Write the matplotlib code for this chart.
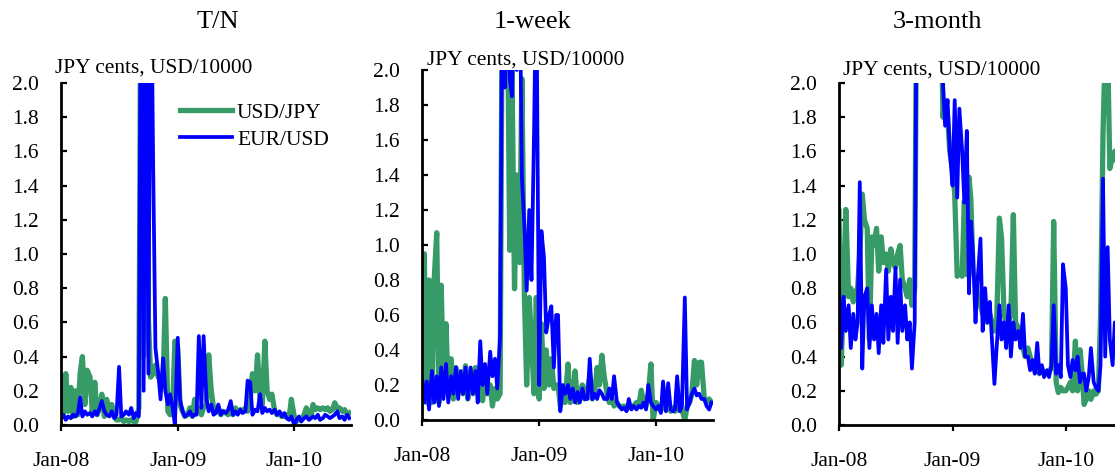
import matplotlib
matplotlib.use('Agg')
import matplotlib.pyplot as plt
import matplotlib.dates as mdates
import pandas as pd

plt.rcParams['font.family'] = ['Liberation Serif', 'DejaVu Serif']

# ---------------- data (4 readings per month, Jan-2008 .. Jun-2010) ----------------
months = pd.period_range('2008-01', '2010-06', freq='M')
days_in_month = [1, 8, 16, 23]
dates = [pd.Timestamp(p.year, p.month, d) for p in months for d in days_in_month]

titles = ['T/N', '1-week', '3-month']
series_names = ['USD/JPY', 'EUR/USD']
unit_label = 'JPY cents, USD/10000'
tick_years = [2008, 2009, 2010]

tn_usdjpy = [
    0.28, 0.05, 0.30, 0.08,  0.22, 0.05, 0.20, 0.06,  0.30, 0.40, 0.12, 0.32,
    0.28, 0.08, 0.25, 0.06,  0.10, 0.18, 0.05, 0.15,  0.08, 0.12, 0.05, 0.03,
    0.03, 0.04, 0.02, 0.03,  0.02, 0.03, 0.02, 0.02,  0.10, 3.00, 0.40, 3.00,
    0.62, 0.28, 0.30, 0.35,  0.28, 0.28, 0.25, 0.74,  0.08, 0.06, 0.10, 0.49,
    0.45, 0.12, 0.08, 0.05,  0.06, 0.10, 0.05, 0.15,  0.08, 0.10, 0.06, 0.10,
    0.12, 0.41, 0.20, 0.10,  0.08, 0.10, 0.06, 0.08,  0.07, 0.06, 0.09, 0.06,
    0.10, 0.07, 0.09, 0.08,  0.10, 0.08, 0.15, 0.30,  0.20, 0.41, 0.15, 0.12,
    0.49, 0.20, 0.15, 0.18,  0.08, 0.06, 0.07, 0.05,  0.05, 0.06, 0.04, 0.15,
    0.05, 0.02, 0.04, 0.03,  0.06, 0.10, 0.07, 0.05,  0.12, 0.09, 0.10, 0.09,
    0.10, 0.09, 0.10, 0.08,  0.09, 0.13, 0.10, 0.10,  0.08, 0.09, 0.06, 0.07,
]
tn_eurusd = [
    0.04, 0.06, 0.03, 0.05,  0.04, 0.06, 0.05, 0.07,  0.16, 0.05, 0.08, 0.06,
    0.07, 0.05, 0.08, 0.06,  0.10, 0.14, 0.08, 0.06,  0.05, 0.08, 0.04, 0.06,
    0.34, 0.05, 0.06, 0.08,  0.06, 0.10, 0.04, 0.07,  0.05, 3.00, 0.20, 3.00,
    0.30, 3.00, 1.50, 0.45,  0.30, 0.15, 0.39, 0.20,  0.12, 0.18, 0.10, 0.00,
    0.51, 0.15, 0.08, 0.05,  0.06, 0.08, 0.05, 0.06,  0.06, 0.52, 0.10, 0.52,
    0.15, 0.08, 0.12, 0.06,  0.07, 0.12, 0.06, 0.08,  0.07, 0.09, 0.14, 0.06,
    0.08, 0.06, 0.09, 0.07,  0.08, 0.26, 0.25, 0.06,  0.09, 0.08, 0.18, 0.07,
    0.10, 0.08, 0.09, 0.07,  0.09, 0.06, 0.08, 0.05,  0.07, 0.04, 0.03, 0.05,
    0.00, 0.03, 0.05, 0.02,  0.04, 0.05, 0.03, 0.04,  0.05, 0.04, 0.06, 0.03,
    0.04, 0.06, 0.05, 0.04,  0.05, 0.06, 0.08, 0.04,  0.05, 0.03, 0.06, 0.04,
]
wk_usdjpy = [
    0.31, 0.95, 0.10, 0.80,  0.10, 0.80, 1.07, 0.10,  0.77, 0.20, 0.55, 0.15,
    0.35, 0.12, 0.30, 0.20,  0.25, 0.15, 0.31, 0.12,  0.28, 0.15, 0.30, 0.18,
    0.25, 0.11, 0.22, 0.15,  0.20, 0.08, 0.18, 0.12,  0.15, 2.60, 1.95, 2.60,
    0.97, 2.00, 0.75, 1.40,  0.90, 1.95, 0.70, 0.20,  0.70, 0.45, 0.15, 0.70,
    0.12, 0.55, 0.18, 0.40,  0.20, 0.35, 0.18, 0.20,  0.20, 0.08, 0.15, 0.10,
    0.32, 0.10, 0.12, 0.28,  0.10, 0.15, 0.20, 0.12,  0.18, 0.24, 0.12, 0.15,
    0.30, 0.20, 0.37, 0.25,  0.15, 0.10, 0.12, 0.08,  0.10, 0.08, 0.07, 0.08,
    0.06, 0.08, 0.07, 0.08,  0.10, 0.08, 0.17, 0.10,  0.08, 0.15, 0.32, 0.00,
    0.10, 0.08, 0.06, 0.08,  0.06, 0.08, 0.05, 0.07,  0.05, 0.06, 0.08, 0.06,
    0.00, 0.08, 0.10, 0.15,  0.34, 0.20, 0.33, 0.33,  0.12, 0.10, 0.12, 0.10,
]
wk_eurusd = [
    0.25, 0.10, 0.22, 0.06,  0.28, 0.10, 0.25, 0.08,  0.30, 0.12, 0.32, 0.10,
    0.25, 0.15, 0.30, 0.12,  0.28, 0.15, 0.30, 0.12,  0.30, 0.15, 0.28, 0.10,
    0.45, 0.20, 0.32, 0.15,  0.39, 0.25, 0.35, 0.18,  0.48, 2.60, 1.90, 2.60,
    1.95, 1.85, 2.60, 2.00,  2.60, 1.39, 1.10, 0.74,  1.20, 0.80, 1.64, 2.60,
    0.20, 1.08, 0.93, 0.50,  0.60, 0.65, 0.30, 0.60,  0.60, 0.05, 0.20, 0.15,
    0.20, 0.12, 0.18, 0.10,  0.16, 0.10, 0.18, 0.12,  0.12, 0.35, 0.12, 0.15,
    0.12, 0.17, 0.15, 0.12,  0.12, 0.18, 0.12, 0.25,  0.10, 0.08, 0.06, 0.07,
    0.05, 0.12, 0.06, 0.08,  0.06, 0.08, 0.07, 0.10,  0.06, 0.20, 0.10, 0.08,
    0.06, 0.08, 0.04, 0.22,  0.05, 0.21, 0.06, 0.05,  0.06, 0.25, 0.05, 0.08,
    0.70, 0.06, 0.10, 0.15,  0.18, 0.14, 0.15, 0.12,  0.12, 0.08, 0.06, 0.10,
]
m3_usdjpy = [
    1.25, 0.35, 0.80, 1.26,  0.75, 0.80, 0.72, 0.78,  0.80, 1.00, 1.35, 1.20,
    1.15, 0.50, 1.10, 1.05,  1.15, 0.90, 1.10, 0.95,  1.00, 0.90, 1.03, 0.95,
    0.92, 1.00, 1.05, 0.85,  0.80, 0.75, 0.85, 0.70,  0.80, 2.80, 2.80, 2.80,
    2.80, 2.80, 2.80, 2.80,  2.80, 2.80, 2.80, 2.80,  1.80, 1.90, 1.80, 1.60,
    1.50, 1.35, 0.87, 0.90,  0.87, 1.31, 0.88, 1.45,  1.32, 0.90, 0.85, 0.75,
    0.70, 0.65, 0.68, 0.60,  0.65, 0.60, 0.55, 0.58,  1.21, 1.09, 0.65, 0.60,
    0.60, 0.65, 1.23, 0.60,  0.57, 0.50, 0.45, 0.40,  0.45, 0.40, 0.35, 0.32,
    0.35, 0.30, 0.33, 0.30,  0.30, 0.32, 0.33, 1.19,  0.25, 0.19, 0.22, 0.20,
    0.20, 0.22, 0.25, 0.20,  0.49, 0.20, 0.44, 0.30,  0.12, 0.15, 0.20, 0.15,
    0.20, 0.18, 0.20, 0.62,  1.70, 2.20, 2.20, 1.50,  1.57, 1.60, 1.50, 1.50,
]
m3_eurusd = [
    0.82, 0.45, 0.75, 0.55,  0.70, 0.45, 0.65, 0.50,  0.60, 1.42, 0.33, 0.75,
    0.80, 0.45, 0.70, 0.50,  0.65, 0.42, 0.70, 0.48,  0.91, 0.50, 0.75, 0.55,
    0.92, 0.48, 0.85, 0.55,  0.70, 0.50, 0.60, 0.33,  0.60, 2.80, 2.80, 2.80,
    2.80, 2.80, 2.80, 2.80,  2.80, 2.80, 2.80, 2.80,  2.00, 1.75, 1.90, 1.60,
    1.40, 1.90, 1.33, 1.85,  1.60, 1.30, 1.72, 0.77,  1.19, 1.00, 0.60, 0.85,
    1.09, 0.55, 0.80, 0.60,  0.72, 0.50, 0.24, 0.45,  0.70, 0.50, 0.60, 0.45,
    0.70, 0.40, 0.60, 0.50,  0.55, 0.45, 0.65, 0.40,  0.40, 0.32, 0.38, 0.30,
    0.48, 0.30, 0.35, 0.28,  0.32, 0.28, 0.35, 0.70,  0.30, 0.35, 0.28, 0.94,
    0.80, 0.35, 0.28, 0.38,  0.32, 0.40, 0.25, 0.30,  0.30, 0.20, 0.28, 0.45,
    0.25, 0.22, 0.20, 0.35,  1.44, 0.40, 1.04, 0.50,  0.35, 0.60, 0.45, 0.50,
]

panel_data = [(tn_usdjpy, tn_eurusd), (wk_usdjpy, wk_eurusd), (m3_usdjpy, m3_eurusd)]

# ---------------- layout ----------------
W, H = 1115, 470
fig = plt.figure(figsize=(W / 100, H / 100), dpi=100)

# left, right, top, bottom in pixels
boxes = [(61, 351, 83, 425), (422, 713, 70, 420), (839, 1121, 83, 425)]
title_pos = [(218, 22), (533, 22), (937, 22)]
unit_pos = [(55, 68), (427, 60), (843, 70)]

GREEN = '#379b68'
BLUE = '#0000ff'

for i, (box, (g, b)) in enumerate(zip(boxes, panel_data)):
    l, r, t, btm = box
    ax = fig.add_axes([l / W, 1 - btm / H, (r - l) / W, (btm - t) / H])
    ax.plot(dates, g, color=GREEN, lw=3.8, solid_joinstyle='round', label=series_names[0])
    ax.plot(dates, b, color=BLUE, lw=2.7, solid_joinstyle='round', label=series_names[1])
    ax.set_ylim(0, 2.0)
    ax.set_xlim(pd.Timestamp(2008, 1, 1), pd.Timestamp(2010, 6, 28))
    ax.set_yticks([0.0, 0.2, 0.4, 0.6, 0.8, 1.0, 1.2, 1.4, 1.6, 1.8, 2.0])
    ax.yaxis.set_major_formatter(matplotlib.ticker.FormatStrFormatter('%.1f'))
    ax.set_xticks([pd.Timestamp(y, 1, 1) for y in tick_years])
    ax.xaxis.set_major_formatter(mdates.DateFormatter('%b-%y'))
    for s in ['top', 'right']:
        ax.spines[s].set_visible(False)
    for s in ['left', 'bottom']:
        ax.spines[s].set_linewidth(2.0)
        ax.spines[s].set_color('black')
    ax.tick_params(axis='y', direction='in', length=4.5, width=1.6, labelsize=15.5, pad=16)
    ax.tick_params(axis='x', direction='out', length=4.5, width=1.6, labelsize=15.5, pad=15)
    fig.text(title_pos[i][0] / W, 1 - title_pos[i][1] / H, titles[i],
             ha='center', va='center', fontsize=19)
    fig.text(unit_pos[i][0] / W, 1 - unit_pos[i][1] / H, unit_label,
             ha='left', va='center', fontsize=15.4)
    if i == 0:
        leg = ax.legend(loc='upper left', bbox_to_anchor=(0.41, 0.942), frameon=False,
                        fontsize=15.5, handlelength=2.42, handletextpad=0.23,
                        labelspacing=0.32, borderpad=0, borderaxespad=0)

fig.savefig('out.png', dpi=100)
